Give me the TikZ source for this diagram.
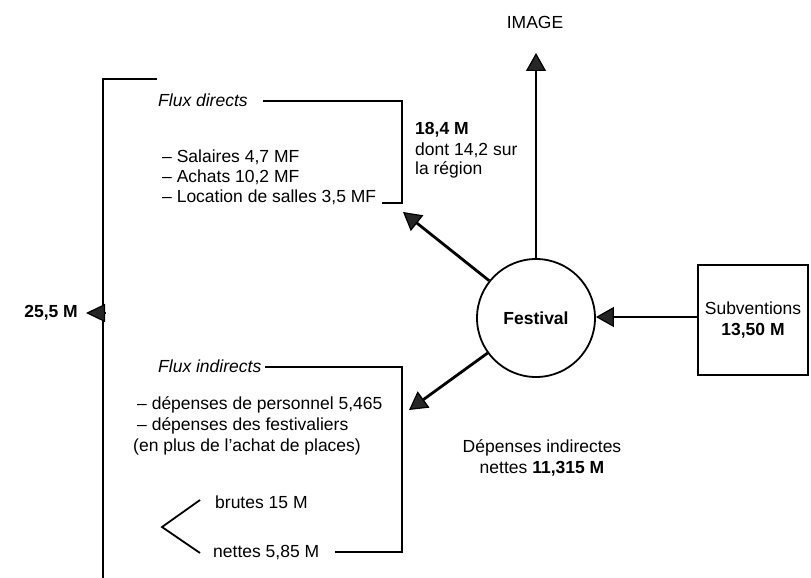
\documentclass[tikz,border=0pt]{standalone}
\usepackage{fontspec}
\setmainfont{Liberation Sans}
\usetikzlibrary{arrows.meta}
\begin{document}
\begin{tikzpicture}[x=1pt,y=-1pt,
  txt/.style={font=\fontsize{17.5}{20}\selectfont, inner sep=0pt},
  btxt/.style={font=\fontsize{17.5}{20}\selectfont\bfseries, inner sep=0pt},
  itxt/.style={font=\fontsize{17.5}{20}\selectfont\itshape, inner sep=0pt},
  frame/.style={line width=1.8pt},
  flow/.style={line width=2.8pt, -{Triangle[length=18pt,width=20pt,fill=black!85,line width=1.2pt]}},
  lflow/.style={line width=1.8pt, -{Triangle[length=19pt,width=18pt,fill=black!85,line width=1.2pt]}}]
\useasboundingbox (0,0) rectangle (811,578);
% top label
\node[txt] (image) at (535,22) {IMAGE};
% central circle and subsidy box
\node[circle, draw, frame, minimum size=118pt, inner sep=0pt,
      font=\fontsize{17.5}{20}\selectfont\bfseries] (fest) at (536,318) {Festival};
\node[draw, frame, minimum width=110pt, minimum height=110pt, align=center,
      font=\fontsize{17.5}{21}\selectfont] (subv) at (753,320)
      {Subventions\\\textbf{13,50 M}};
\coordinate (subvin) at (698,317);
\draw[flow] (subvin) -- (fest.east |- subvin);
\coordinate (imgtip) at (536,53);
\draw[flow] (fest.north) -- (imgtip);
\coordinate (nwtip) at (403,212);
\draw[flow] (fest) -- (nwtip);
\coordinate (swtip) at (409,410);
\draw[flow] (fest) -- (swtip);
% left bracket
\coordinate (ltick) at (157,79);
\coordinate (ltop) at (103,79);
\coordinate (lbot) at (103,578);
\draw[frame] (ltick) -- (ltop) -- (lbot);
\coordinate (lmid) at (105,313);
\coordinate (ltip) at (86,313);
\draw[lflow] (lmid) -- (ltip);
\node[btxt, anchor=east] (total) at (78,313) {25,5 M};
% direct flows
\node[itxt, anchor=west] (fd) at (158,100) {Flux directs};
\coordinate (fda) at (263,101);
\coordinate (fdb) at (402,101);
\coordinate (fdc) at (402,203);
\coordinate (fdd) at (382,203);
\draw[frame] (fda) -- (fdb) -- (fdc) -- (fdd);
\node[txt, anchor=west] (fd1) at (162,157) {– Salaires 4,7 MF};
\node[txt, anchor=west] (fd2) at (162,177) {– Achats 10,2 MF};
\node[txt, anchor=west] (fd3) at (162,197) {– Location de salles 3,5 MF};
\node[btxt, anchor=west] (dm1) at (415,130) {18,4 M};
\node[txt, anchor=west] (dm2) at (415,150) {dont 14,2 sur};
\node[txt, anchor=west] (dm3) at (415,170) {la région};
% indirect flows
\node[itxt, anchor=west] (fi) at (158,366) {Flux indirects};
\coordinate (fia) at (265,367);
\coordinate (fib) at (402,367);
\coordinate (fic) at (402,552);
\coordinate (fid) at (335,552);
\draw[frame] (fia) -- (fib) -- (fic) -- (fid);
\node[txt, anchor=west] (fi1) at (137,405) {– dépenses de personnel 5,465};
\node[txt, anchor=west] (fi2) at (137,426) {– dépenses des festivaliers};
\node[txt, anchor=west] (fi3) at (133,447) {(en plus de l'achat de places)};
\coordinate (va) at (200,500);
\coordinate (vb) at (162,527);
\coordinate (vc) at (200,553);
\draw[frame] (va) -- (vb) -- (vc);
\node[txt, anchor=west] (br) at (215,502) {brutes 15 M};
\node[txt, anchor=west] (ne) at (213,553) {nettes 5,85 M};
\node[txt] (di1) at (542,448) {Dépenses indirectes};
\node[txt] (di2) at (542,469) {nettes \textbf{11,315 M}};
\end{tikzpicture}
\end{document}
